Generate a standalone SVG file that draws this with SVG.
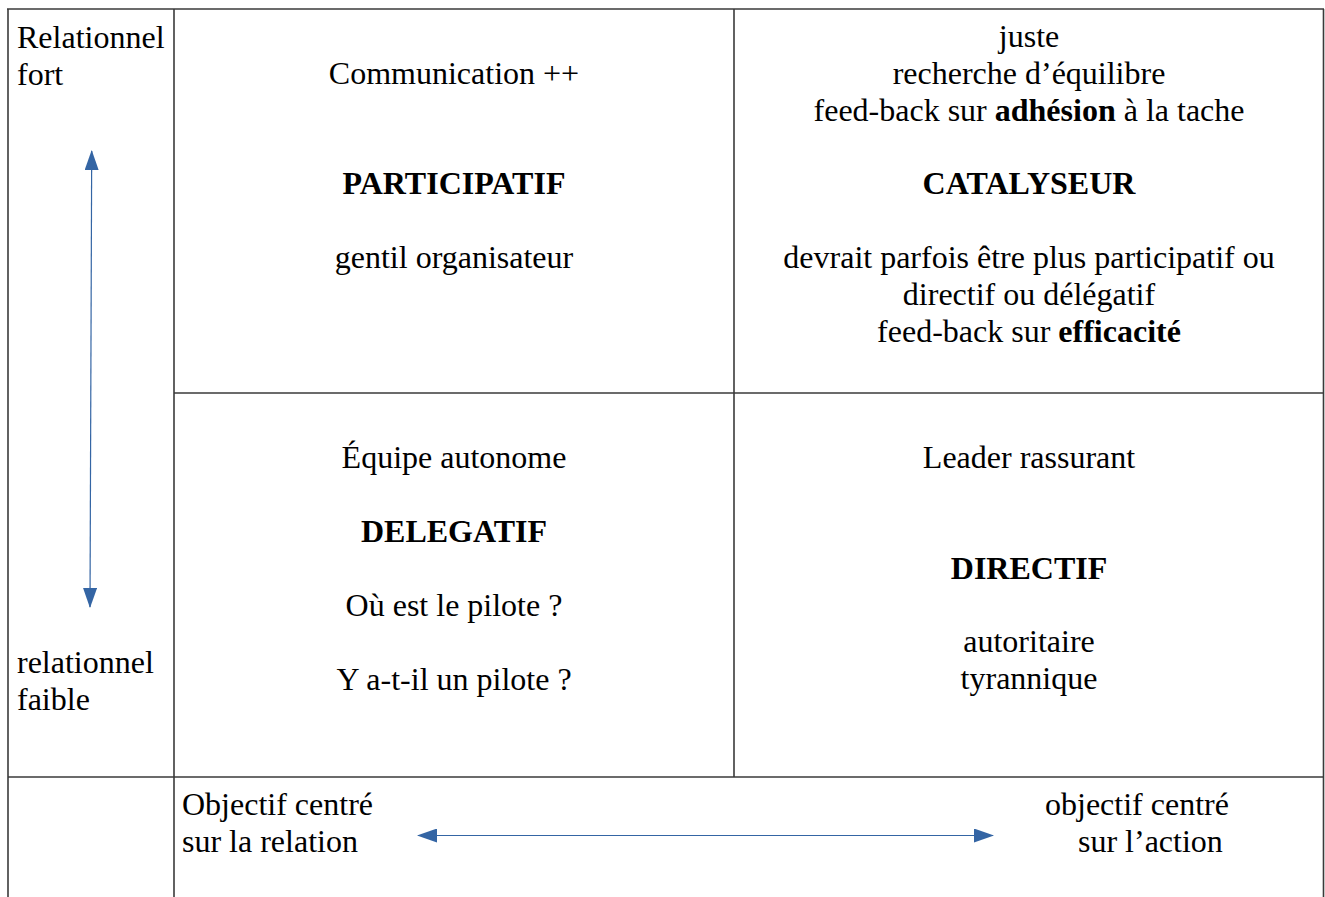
<svg xmlns="http://www.w3.org/2000/svg" width="1325" height="897" viewBox="0 0 1325 897">
<defs>
<style>
text,tspan{font-family:"Liberation Serif","Times New Roman",serif;font-size:32px;fill:#000}
.c{text-anchor:middle}
.b{font-family:"Liberation Serif","Times New Roman",serif;font-weight:bold}
.grid line{stroke:#3a3a3a;stroke-width:1.6}
.arr{stroke:#3465a4;stroke-width:1.2;fill:none}
</style>
<marker id="ah" viewBox="0 0 20 14" refX="19" refY="7" markerWidth="20" markerHeight="14" markerUnits="userSpaceOnUse" orient="auto-start-reverse">
<path d="M0,0 L20,7 L0,14 Z" fill="#3465a4"/>
</marker>
</defs>
<rect width="1325" height="897" fill="#fff"/>
<g id="grid" class="grid">
<line x1="7" y1="9" x2="1324" y2="9"/>
<line x1="8" y1="9" x2="8" y2="897"/>
<line x1="174" y1="9" x2="174" y2="897"/>
<line x1="734" y1="9" x2="734" y2="777"/>
<line x1="1323.5" y1="9" x2="1323.5" y2="897"/>
<line x1="174" y1="393" x2="1324" y2="393"/>
<line x1="8" y1="777" x2="1324" y2="777"/>
</g>
<g id="axis-labels">
<text x="17" y="48">Relationnel</text>
<text x="17" y="85">fort</text>
<text x="17" y="673">relationnel</text>
<text x="17" y="710">faible</text>
<text x="182" y="815">Objectif centré</text>
<text x="182" y="852">sur la relation</text>
<text x="1045" y="815">objectif centré</text>
<text x="1078" y="852">sur l’action</text>
</g>
<g id="participatif">
<text class="c" x="454" y="84">Communication ++</text>
<text class="c b" x="454" y="194">PARTICIPATIF</text>
<text class="c" x="454" y="268">gentil organisateur</text>
</g>
<g id="catalyseur">
<text class="c" x="1029" y="47">juste</text>
<text class="c" x="1029" y="84">recherche d’équilibre</text>
<text class="c" x="1029" y="121">feed-back sur <tspan class="b" font-weight="bold">adhésion</tspan> à la tache</text>
<text class="c b" x="1029" y="194">CATALYSEUR</text>
<text class="c" x="1029" y="268">devrait parfois être plus participatif ou</text>
<text class="c" x="1029" y="305">directif ou délégatif</text>
<text class="c" x="1029" y="342">feed-back sur <tspan class="b" font-weight="bold">efficacité</tspan></text>
</g>
<g id="delegatif">
<text class="c" x="454" y="468">Équipe autonome</text>
<text class="c b" x="454" y="542">DELEGATIF</text>
<text class="c" x="454" y="616">Où est le pilote ?</text>
<text class="c" x="454" y="690">Y a-t-il un pilote ?</text>
</g>
<g id="directif">
<text class="c" x="1029" y="468">Leader rassurant</text>
<text class="c b" x="1029" y="579">DIRECTIF</text>
<text class="c" x="1029" y="652">autoritaire</text>
<text class="c" x="1029" y="689">tyrannique</text>
</g>
<g id="connectors">
<line class="arr" x1="90" y1="607" x2="91.7" y2="151" marker-start="url(#ah)" marker-end="url(#ah)"/>
<line class="arr" x1="418" y1="835.5" x2="993" y2="835.5" marker-start="url(#ah)" marker-end="url(#ah)"/>
</g>
</svg>
